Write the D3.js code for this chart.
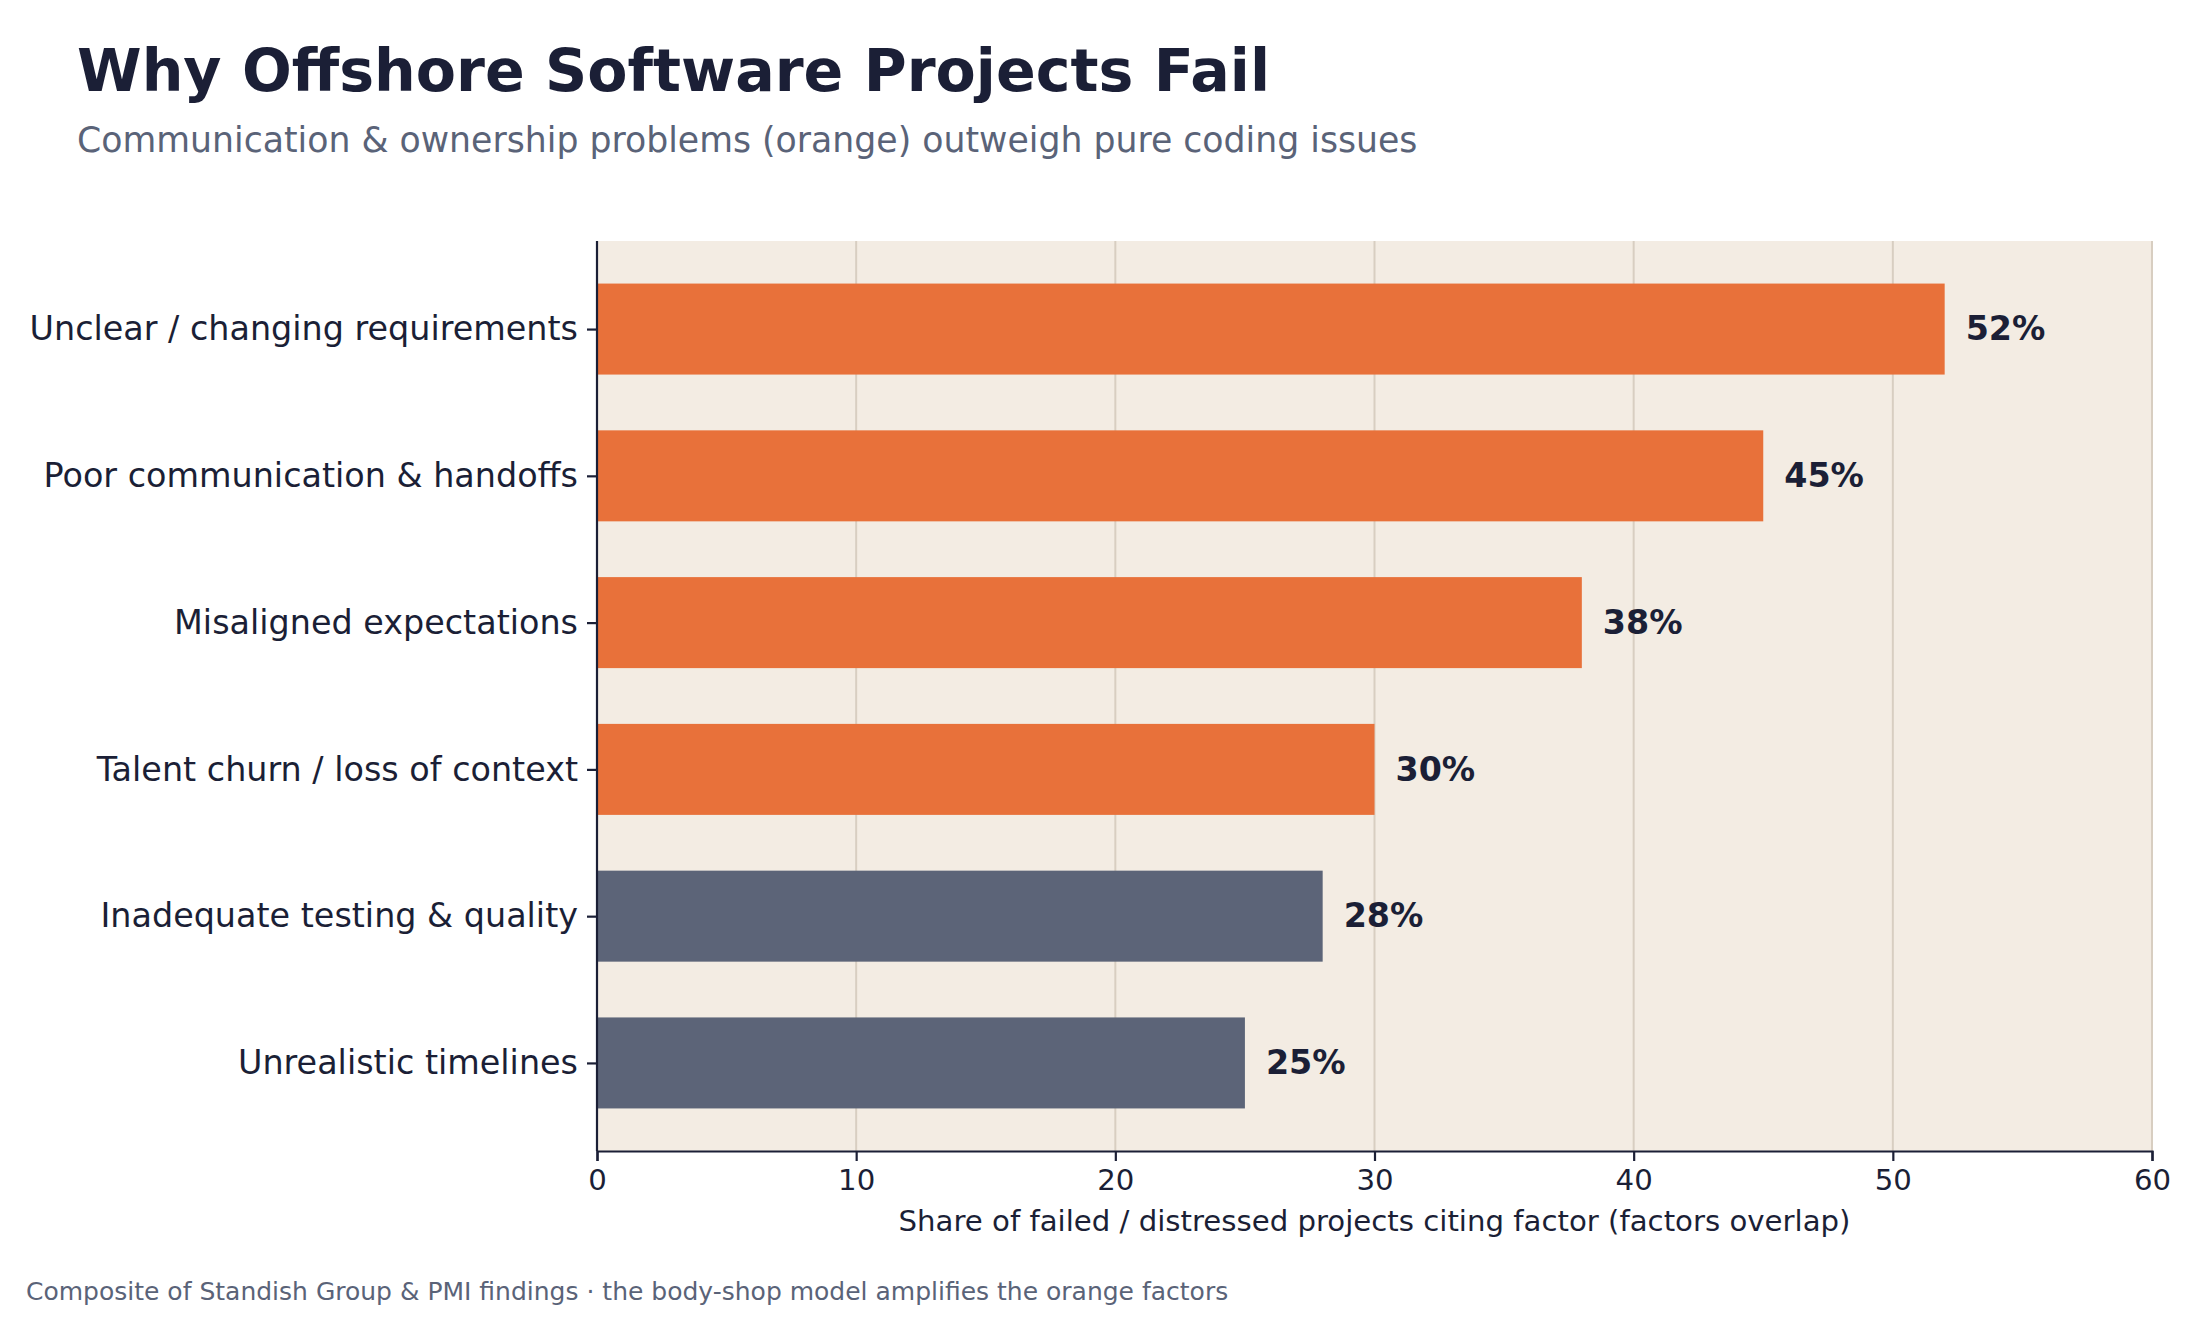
<!DOCTYPE html>
<html><head><meta charset="utf-8">
<script src="https://cdn.jsdelivr.net/npm/d3@7"></script>
<style>body{margin:0;background:#fff;} svg{display:block;}</style>
</head><body>
<svg id="chart" width="2200" height="1320"></svg>
<script>
const categories = ["Unclear / changing requirements","Poor communication & handoffs","Misaligned expectations","Talent churn / loss of context","Inadequate testing & quality","Unrealistic timelines"];
const values = [52,45,38,30,28,25];
const groups = ["people","people","people","people","code","code"];
const xTicks = [0,10,20,30,40,50,60];
const colors = {people:"#E8713A", code:"#5C6478"};
const font = "'DejaVu Sans', sans-serif";
const ink = "#1B1F36", muted = "#5A6378";

const svg = d3.select("#chart");
const L = 597, R = 2152, T = 241, B = 1151;
const x = d3.scaleLinear().domain([0,60]).range([L,R]);
const y = d3.scaleLinear().domain([-0.6,5.6]).range([T,B]);
const barH = 0.62;

svg.append("rect").attr("x",L).attr("y",T).attr("width",R-L).attr("height",B-T).attr("fill","#F3ECE3");

// grid
svg.append("g").selectAll("line").data(xTicks.filter(d=>d>0)).join("line")
  .attr("x1",d=>x(d)).attr("x2",d=>x(d)).attr("y1",T).attr("y2",B)
  .attr("stroke","#D8CEC1").attr("stroke-width",2);

// bars
svg.append("g").selectAll("rect").data(values).join("rect")
  .attr("x",x(0)).attr("y",(d,i)=>y(i-barH/2))
  .attr("width",d=>x(d)-x(0)).attr("height",y(barH)-y(0))
  .attr("fill",(d,i)=>colors[groups[i]]);

// value labels
svg.append("g").selectAll("text").data(values).join("text")
  .attr("x",d=>x(d)+21).attr("y",(d,i)=>y(i)).attr("dy","0.34em")
  .attr("font-family",font).attr("font-weight","bold").attr("font-size",33.3)
  .attr("fill",ink).text(d=>d+"%");

// x axis
const xAxis = svg.append("g").attr("transform",`translate(0,${B})`)
  .call(d3.axisBottom(x).tickValues(xTicks).tickSize(10).tickPadding(8).tickFormat(d3.format("d")));
xAxis.select(".domain").attr("stroke",ink).attr("stroke-width",2.2);
xAxis.selectAll(".tick line").attr("stroke",ink).attr("stroke-width",2.2);
xAxis.selectAll("text").attr("font-family",font).attr("font-size",29.2).attr("fill",ink);

// y axis
const yAxis = svg.append("g").attr("transform",`translate(${L},0)`)
  .call(d3.axisLeft(y).tickValues(d3.range(categories.length)).tickSize(10).tickPadding(9).tickFormat(i=>categories[i]));
yAxis.select(".domain").attr("stroke",ink).attr("stroke-width",2.2).attr("d",`M0,${T}V${B}`);
yAxis.selectAll(".tick line").attr("stroke",ink).attr("stroke-width",2.2);
yAxis.selectAll("text").attr("font-family",font).attr("font-size",33.4).attr("fill",ink);

// axis label
svg.append("text").attr("x",(L+R)/2).attr("y",1231).attr("text-anchor","middle")
  .attr("font-family",font).attr("font-size",29.2).attr("fill",ink)
  .text("Share of failed / distressed projects citing factor (factors overlap)");

// titles
svg.append("text").attr("x",77).attr("y",91).attr("font-family",font).attr("font-weight","bold")
  .attr("font-size",58.6).attr("fill",ink).text("Why Offshore Software Projects Fail");
svg.append("text").attr("x",77).attr("y",152).attr("font-family",font)
  .attr("font-size",34.7).attr("fill",muted).text("Communication & ownership problems (orange) outweigh pure coding issues");
svg.append("text").attr("x",26).attr("y",1300).attr("font-family",font)
  .attr("font-size",25).attr("fill",muted).text("Composite of Standish Group & PMI findings · the body-shop model amplifies the orange factors");
</script>
</body></html>
